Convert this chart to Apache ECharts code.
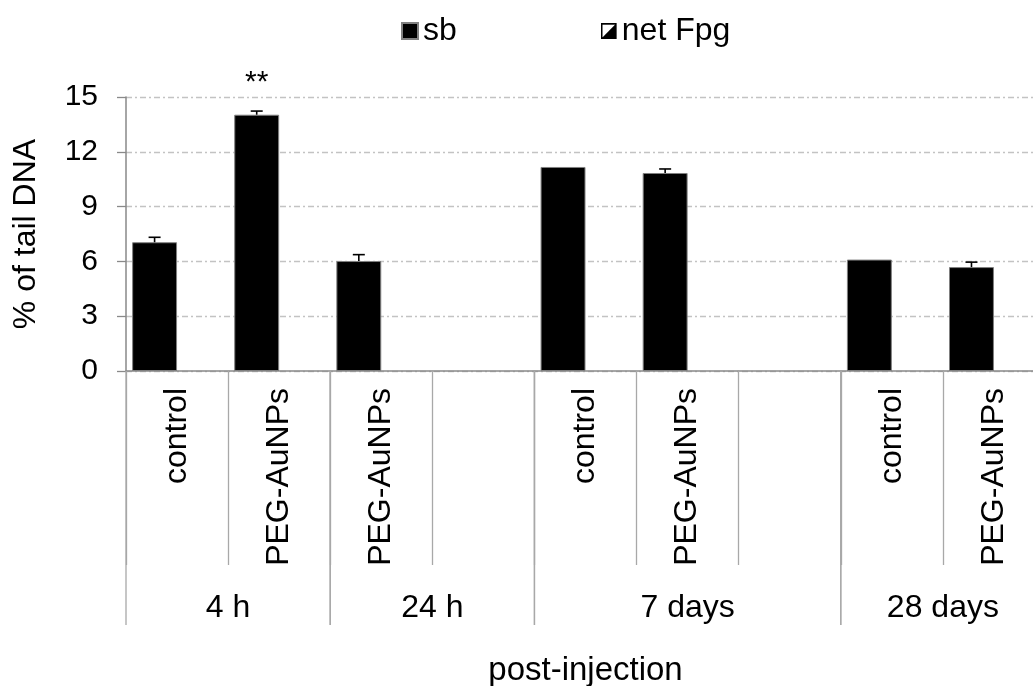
<!DOCTYPE html>
<html>
<head>
<meta charset="utf-8">
<script src="https://cdn.jsdelivr.net/npm/echarts@6/dist/echarts.min.js"></script>
<style>
html,body{margin:0;padding:0;background:#fff;}
#chart{width:1033px;height:686px;}
</style>
</head>
<body>
<div id="chart"></div>
<script>
// ---- data ----
const categories = ['control', 'PEG-AuNPs', 'PEG-AuNPs', '', 'control', 'PEG-AuNPs', '', 'control', 'PEG-AuNPs'];
const sbValues = [7.05, 14.03, 6.02, null, 11.17, 10.84, null, 6.10, 5.69];
const sbErrors = [0.27, 0.20, 0.35, null, 0, 0.22, null, 0, 0.27];
const sbMarks = ['', '**', '', '', '', '', '', '', ''];
const netFpgValues = [null, null, null, null, null, null, null, null, null];
const groupNames = ['4 h', '24 h', '7 days', '28 days'];
const groupStart = [0, 2, 4, 7];
const groupEnd = [1, 3, 6, 8];
const yMin = 0, yMax = 15, yStep = 3;
const seriesNames = ['sb', 'net Fpg'];

const FONT = 'Liberation Sans, Arial, sans-serif';
const CAT_GAP = 0.12;

const hatchIcon = 'image://data:image/svg+xml;charset=utf-8,' + encodeURIComponent(
  "<svg xmlns='http://www.w3.org/2000/svg' width='28' height='28'>" +
  "<rect x='1.5' y='1.5' width='25' height='25' fill='white' stroke='black' stroke-width='3'/>" +
  "<polygon points='1.5,26.5 26.5,1.5 26.5,26.5' fill='black'/></svg>");

const chart = echarts.init(document.getElementById('chart'), null, {renderer: 'canvas'});

const errData = sbValues.map((v, i) => [i, v, sbErrors[i]]).filter(d => d[1] != null && d[2] > 0);
const groupData = groupNames.map((g, i) => [groupStart[i], groupEnd[i], i]);

chart.setOption({
  animation: false,
  backgroundColor: '#fff',
  textStyle: {fontFamily: FONT, color: '#000'},
  legend: {
    left: 396, top: 10,
    itemWidth: 16, itemHeight: 16, itemGap: 144,
    textStyle: {fontSize: 32, fontFamily: FONT, color: '#000'},
    data: [{name: seriesNames[0], icon: 'rect'}, {name: seriesNames[1], icon: hatchIcon}]
  },
  grid: {left: 126, width: 919, top: 97, height: 274, containLabel: false, outerBoundsMode: 'none'},
  xAxis: {
    type: 'category',
    data: categories,
    name: 'post-injection',
    nameLocation: 'middle',
    nameGap: 283,
    nameTextStyle: {fontSize: 33, fontFamily: FONT, color: '#000'},
    axisLine: {show: true, lineStyle: {color: '#898989', width: 1.5}},
    axisTick: {show: true, interval: 0, length: 194, lineStyle: {color: '#a8a8a8', width: 1.3}},
    axisLabel: {interval: 0, rotate: 90, margin: 17, fontSize: 32, fontFamily: FONT, color: '#000'}
  },
  yAxis: {
    type: 'value',
    min: yMin, max: yMax, interval: yStep,
    name: '% of tail DNA',
    nameLocation: 'middle',
    nameGap: 84,
    nameTextStyle: {fontSize: 32, fontFamily: FONT, color: '#000'},
    axisLine: {show: true, lineStyle: {color: '#898989', width: 1.5}},
    axisTick: {show: true, length: 9, lineStyle: {color: '#898989', width: 1.3}},
    axisLabel: {margin: 28, fontSize: 30, fontFamily: FONT, color: '#000'},
    splitLine: {show: true, lineStyle: {color: '#c3c3c3', width: 1.3, type: [6, 3, 2, 3]}}
  },
  series: [
    {
      name: seriesNames[0], type: 'bar', data: sbValues,
      barGap: '0%', barCategoryGap: (CAT_GAP * 100) + '%',
      itemStyle: {color: '#000', borderColor: '#808080', borderWidth: 1},
      label: {
        show: true, position: 'top', distance: 17,
        formatter: p => sbMarks[p.dataIndex],
        fontSize: 30, fontFamily: FONT, color: '#000'
      },
      z: 2
    },
    {
      name: seriesNames[1], type: 'bar', data: netFpgValues,
      itemStyle: {color: '#fff', borderColor: '#000', borderWidth: 1}
    },
    {
      name: 'sb-err', type: 'custom', data: errData, z: 5, silent: true,
      renderItem: function (params, api) {
        const idx = api.value(0), v = api.value(1), e = api.value(2);
        const band = api.size([1, 0])[0];
        const barW = band * (1 - CAT_GAP) / 2;
        const base = api.coord([idx, v]);
        const top = api.coord([idx, v + e]);
        const x = base[0] - barW / 2;
        const cap = 6;
        const st = {stroke: '#000', lineWidth: 1.6};
        return {type: 'group', children: [
          {type: 'line', shape: {x1: x, y1: base[1], x2: x, y2: top[1]}, style: st},
          {type: 'line', shape: {x1: x - cap, y1: top[1], x2: x + cap, y2: top[1]}, style: st}
        ]};
      }
    },
    {
      name: 'groups', type: 'custom', data: groupData, z: 5, silent: true, clip: false,
      renderItem: function (params, api) {
        const s = api.value(0), e = api.value(1), gi = api.value(2);
        const band = api.size([1, 0])[0];
        const p0 = api.coord([s, 0]);
        const p1 = api.coord([e, 0]);
        const left = p0[0] - band / 2, right = p1[0] + band / 2;
        const y0 = p0[1];
        const st = {stroke: '#a8a8a8', lineWidth: 1.3};
        return {type: 'group', children: [
          {type: 'line', shape: {x1: left, y1: y0, x2: left, y2: y0 + 254}, style: st},
          {type: 'line', shape: {x1: right, y1: y0, x2: right, y2: y0 + 254}, style: st},
          {type: 'text', style: {
            x: (left + right) / 2, y: y0 + 237, text: groupNames[gi],
            align: 'center', verticalAlign: 'middle',
            font: '32px ' + FONT, fill: '#000'
          }}
        ]};
      }
    }
  ]
});
</script>
</body>
</html>
